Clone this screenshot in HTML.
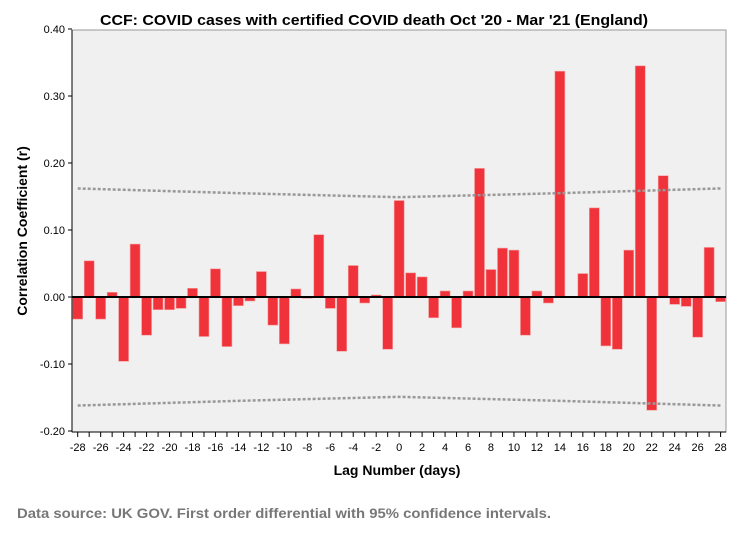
<!DOCTYPE html>
<html><head><meta charset="utf-8"><style>
body{margin:0;background:#fff;}
svg{display:block;font-family:"Liberation Sans",Arial,sans-serif;}
</style></head><body>
<svg id="chart" width="747" height="541" viewBox="0 0 747 541" xmlns="http://www.w3.org/2000/svg">
<rect x="0" y="0" width="747" height="541" fill="#fff"/>
<text x="374" y="25" text-anchor="middle" font-size="15" font-weight="bold" fill="#000" textLength="548" lengthAdjust="spacingAndGlyphs">CCF: COVID cases with certified COVID death Oct '20 - Mar '21 (England)</text>
<rect x="72" y="30" width="654" height="402" fill="#f0f0f0" stroke="#999" stroke-width="1"/>
<g id="bars"></g>
<g id="ci"></g>
<g id="axes"></g>
<text x="397" y="475" text-anchor="middle" font-size="14" font-weight="bold" fill="#000">Lag Number (days)</text>
<text transform="translate(27,231) rotate(-90)" text-anchor="middle" font-size="14" font-weight="bold" fill="#000">Correlation Coefficient (r)</text>
<text x="17" y="518" font-size="14" font-weight="bold" fill="#777" textLength="534" lengthAdjust="spacingAndGlyphs">Data source: UK GOV. First order differential with 95% confidence intervals.</text>
</svg>
<script>
const lags = [];
for (let i = -28; i <= 28; i++) lags.push(i);
const coef = [-0.033,0.054,-0.033,0.007,-0.096,0.079,-0.057,-0.019,-0.019,-0.017,0.013,-0.059,0.042,-0.074,-0.013,-0.006,0.038,-0.042,-0.070,0.012,-0.002,0.093,-0.017,-0.081,0.047,-0.009,0.003,-0.078,0.144,0.036,0.030,-0.031,0.009,-0.046,0.009,0.192,0.041,0.073,0.070,-0.057,0.009,-0.009,0.337,0.001,0.035,0.133,-0.073,-0.078,0.070,0.345,-0.169,0.181,-0.011,-0.014,-0.060,0.074,-0.007];
const ciLags = [-28,-14,0,14,28];
const ciVals = [0.162,0.155,0.149,0.155,0.162];
const yTicks = [0.4,0.3,0.2,0.1,0,-0.1,-0.2];
const xTickLabels = [-28,-26,-24,-22,-20,-18,-16,-14,-12,-10,-8,-6,-4,-2,0,2,4,6,8,10,12,14,16,18,20,22,24,26,28];

const NS = "http://www.w3.org/2000/svg";
const X = l => 77.7 + (l + 28) * (720.6 - 77.7) / 56;
const Y = v => 297 - v * 670;
function mk(tag, attrs, parent) { const e = document.createElementNS(NS, tag); for (const k in attrs) e.setAttribute(k, attrs[k]); parent.appendChild(e); return e; }

const bars = document.getElementById('bars');
lags.forEach((l, i) => {
  const v = coef[i];
  const r = mk('rect', {x: X(l) - 5, y: Math.min(Y(v), Y(0)), width: 10, height: Math.max(Math.abs(Y(v) - Y(0)), 0.01), fill: '#f0323a', stroke: '#f5a0a0', 'stroke-width': 0.6}, bars);
  
  
});

function ciAt(l) {
  for (let k = 0; k < ciLags.length - 1; k++) {
    if (l >= ciLags[k] && l <= ciLags[k + 1]) {
      const t = (l - ciLags[k]) / (ciLags[k + 1] - ciLags[k]);
      return ciVals[k] + t * (ciVals[k + 1] - ciVals[k]);
    }
  }
  return ciVals[ciVals.length - 1];
}
const ci = document.getElementById('ci');
[1, -1].forEach(s => {
  const pts = lags.map(l => X(l) + ',' + Y(s * ciAt(l))).join(' ');
  const p = mk('polyline', {points: pts, fill: 'none', stroke: '#999', 'stroke-width': 2.5, 'stroke-dasharray': '3 2'}, ci);
  
  
});

const axes = document.getElementById('axes');
const zl = mk('line', {x1: 72, x2: 726, y1: Y(0), y2: Y(0), stroke: '#000', 'stroke-width': 2}, axes);


const ya = mk('line', {x1: 72, x2: 72, y1: 30, y2: 432, stroke: '#000', 'stroke-width': 1}, axes);


const xa = mk('line', {x1: 72, x2: 726, y1: 432, y2: 432, stroke: '#000', 'stroke-width': 1}, axes);


yTicks.forEach(v => {
  mk('line', {x1: 68, x2: 72, y1: Y(v), y2: Y(v), stroke: '#000'}, axes);
  const t = mk('text', {x: 65, y: Y(v) + 4, 'text-anchor': 'end', 'font-size': 11, fill: '#000'}, axes);
  t.textContent = v.toFixed(2);
  
  
});
lags.forEach(l => mk('line', {x1: X(l), x2: X(l), y1: 432, y2: 437, stroke: '#000'}, axes));
xTickLabels.forEach(l => {
  const t = mk('text', {x: X(l), y: 451, 'text-anchor': 'middle', 'font-size': 11, fill: '#000'}, axes);
  t.textContent = l;
  
  
});
</script>
</body></html>
